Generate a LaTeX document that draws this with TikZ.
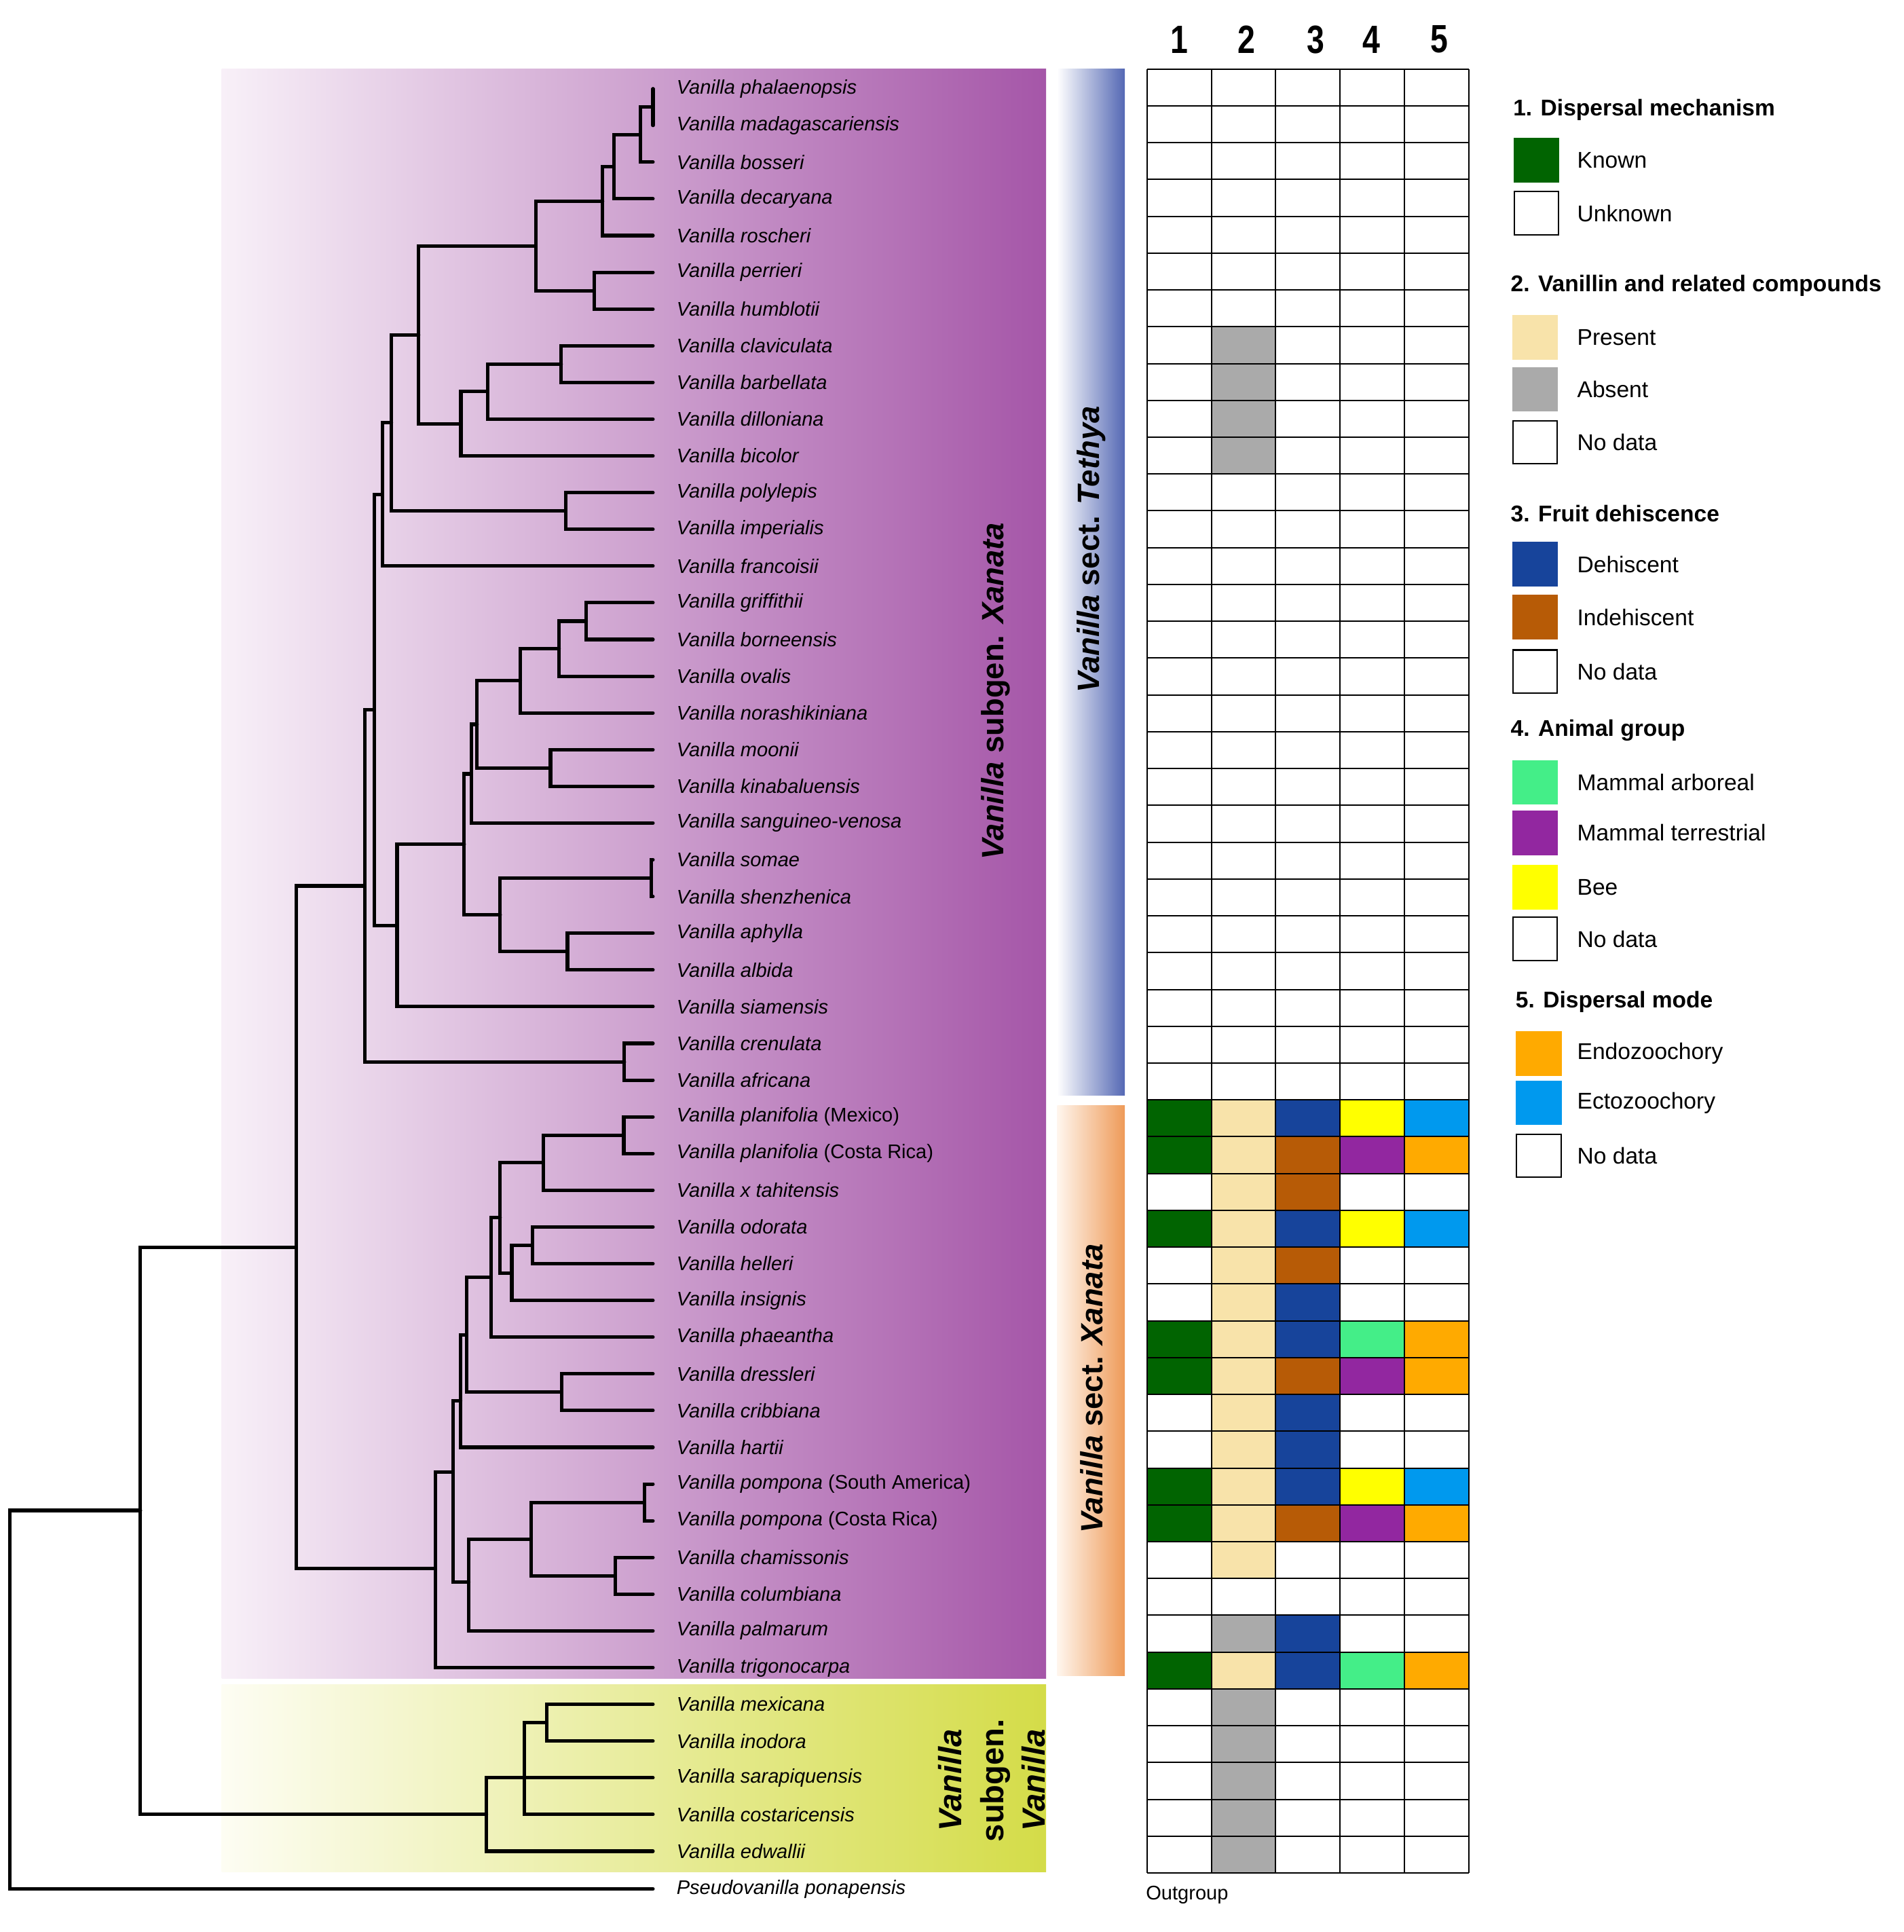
\documentclass[tikz,border=0pt]{standalone}
\usepackage{fontspec}
\setmainfont{Liberation Sans}
\usetikzlibrary{calc}

\definecolor{known}{HTML}{016401}
\definecolor{present}{HTML}{F8E3AA}
\definecolor{absent}{HTML}{AAAAAA}
\definecolor{dehisc}{HTML}{17449B}
\definecolor{indehisc}{HTML}{B75B06}
\definecolor{arboreal}{HTML}{44EE88}
\definecolor{terrestr}{HTML}{9227A0}
\definecolor{bee}{HTML}{FFFF00}
\definecolor{endo}{HTML}{FFAA00}
\definecolor{ecto}{HTML}{0099EE}
\definecolor{purpR}{HTML}{A556A8}
\definecolor{purpM}{HTML}{D3A6D0}
\definecolor{purpL}{HTML}{F8F0F8}
\definecolor{yelR}{HTML}{D4DC48}
\definecolor{yelM}{HTML}{E7EBA4}
\definecolor{yelL}{HTML}{FDFDF3}
\definecolor{tethya}{HTML}{5468B4}
\definecolor{xanata}{HTML}{EE9A58}
\definecolor{xanataL}{HTML}{FFF6EE}

\tikzset{
  taxon/.style={anchor=west,inner sep=0pt,font=\fontsize{16}{18}\selectfont\itshape},
  branch/.style={line width=2.8pt,line cap=round},
  gridline/.style={line width=1.1pt,black},
  colhead/.style={inner sep=0pt,font=\fontsize{32}{36}\selectfont\bfseries},
  cladetext/.style={rotate=90,inner sep=0pt,font=\fontsize{25}{30}\selectfont\bfseries},
  leghead/.style={anchor=west,inner sep=0pt,font=\fontsize{18.5}{22}\selectfont\bfseries},
  legtext/.style={anchor=west,inner sep=0pt,font=\fontsize{18.5}{22}\selectfont},
  legbox/.style={minimum width=36pt,minimum height=35pt,inner sep=0pt,line width=1.2pt}
}

\newcommand{\trait}[3]{\fill[#3] ({931+52.2*(#1-1)},{56+29.88*(#2)}) rectangle ++(52.2,29.88);}

\begin{document}
\begin{tikzpicture}[x=1pt, y=-1pt]
  \useasboundingbox (0,0) rectangle (1545,1568);

  % clade backgrounds
  \shade[left color=purpL, middle color=purpM, right color=purpR] (180,56) rectangle (849,1362);
  \shade[left color=yelL, middle color=yelM, right color=yelR] (180,1367) rectangle (849,1519);
  \shade[left color=white, right color=tethya] (858,56) rectangle (913,889);
  \shade[left color=xanataL, right color=xanata] (858,897) rectangle (913,1360);

  \node[cladetext] (SX) at (808,561) {\textit{Vanilla} subgen. \textit{Xanata}};
  \node[cladetext] (ST) at (886,446) {\textit{Vanilla} sect. \textit{Tethya}};
  \node[cladetext] (SK) at (886,1127) {\textit{Vanilla} sect. \textit{Xanata}};
  \node[cladetext, font=\fontsize{26}{34}\selectfont\bfseries, align=center] (SV) at (805,1445) {\textit{Vanilla}\\subgen.\\\textit{Vanilla}};

  % taxa
  \foreach \n [count=\i from 0] in {phalaenopsis, madagascariensis, bosseri, decaryana, roscheri,
      perrieri, humblotii, claviculata, barbellata, dilloniana, bicolor, polylepis, imperialis,
      francoisii, griffithii, borneensis, ovalis, norashikiniana, moonii, kinabaluensis,
      sanguineo-venosa, somae, shenzhenica, aphylla, albida, siamensis, crenulata, africana,
      planifolia \textup{(Mexico)}, planifolia \textup{(Costa Rica)}, x tahitensis, odorata,
      helleri, insignis, phaeantha, dressleri, cribbiana, hartii,
      pompona \textup{(South America)}, pompona \textup{(Costa Rica)}, chamissonis, columbiana,
      palmarum, trigonocarpa, mexicana, inodora, sarapiquensis, costaricensis, edwallii} {
    \node[taxon] (T_\i) at (549,{72+29.8*\i}) {Vanilla \n};
    \coordinate (t_\i) at (530,{72+29.8*\i});
  }
  \node[taxon] (T_49) at (549,1533) {Pseudovanilla ponapensis};
  \coordinate (t_49) at (530,1533);

  % internal nodes
  \foreach \nm/\x/\r in {A1/530/0.5, A2/519.7/1.25, A3/498.3/2.125, A4/489.1/3.0625,
      A5/482.1/5.5, A6/434.9/4.28, A7/455.5/7.5, A8/395.8/8.25, A9/374.1/9.125,
      A10/339.8/6.70, A11/459.1/11.5, A12/317.7/9.10, A13/310.4/11.05,
      B1/475.8/14.5, B2/453.8/15.25, B3/422.3/16.125, B4/446.8/18.5, B5/387.2/17.31,
      B6/382.6/18.66, B7/528.5/21.5, B8/460.6/23.5, B9/406/22.5, B10/376.8/20.58,
      B11/322.3/22.79, C1/303.8/16.92, C2/506.8/26.5, C3/296.1/21.71,
      D1/506.3/28.5, D2/440.8/29.25, D3/432/31.5, D4/415.4/32.25, D5/405.9/30.75,
      D6/398.5/32.375, D7/455.8/35.5, D8/378.7/33.94, D9/373.9/35.73, D10/523/38.5,
      D11/499.2/40.5, D12/431/39.5, D13/380.5/40.67, D14/367.7/37.67, D15/353.2/40.3,
      E1/240.4/31.55, F1/443.6/44.5, F2/425.7/46, F3/394.8/47, G1/114/38.72, R/8/44} {
    \coordinate (\nm) at (\x,{72+29.8*\r});
  }

  \draw[branch] (t_0) -| (A1) |- (t_1);
  \draw[branch] (A1) -| (A2) |- (t_2);
  \draw[branch] (A2) -| (A3) |- (t_3);
  \draw[branch] (A3) -| (A4) |- (t_4);
  \draw[branch] (t_5) -| (A5) |- (t_6);
  \draw[branch] (A4) -| (A6) |- (A5);
  \draw[branch] (t_7) -| (A7) |- (t_8);
  \draw[branch] (A7) -| (A8) |- (t_9);
  \draw[branch] (A8) -| (A9) |- (t_10);
  \draw[branch] (A6) -| (A10) |- (A9);
  \draw[branch] (t_11) -| (A11) |- (t_12);
  \draw[branch] (A10) -| (A12) |- (A11);
  \draw[branch] (A12) -| (A13) |- (t_13);
  \draw[branch] (t_14) -| (B1) |- (t_15);
  \draw[branch] (B1) -| (B2) |- (t_16);
  \draw[branch] (B2) -| (B3) |- (t_17);
  \draw[branch] (t_18) -| (B4) |- (t_19);
  \draw[branch] (B3) -| (B5) |- (B4);
  \draw[branch] (B5) -| (B6) |- (t_20);
  \draw[branch] (t_21) -| (B7) |- (t_22);
  \draw[branch] (t_23) -| (B8) |- (t_24);
  \draw[branch] (B7) -| (B9) |- (B8);
  \draw[branch] (B6) -| (B10) |- (B9);
  \draw[branch] (B10) -| (B11) |- (t_25);
  \draw[branch] (A13) -| (C1) |- (B11);
  \draw[branch] (t_26) -| (C2) |- (t_27);
  \draw[branch] (C1) -| (C3) |- (C2);
  \draw[branch] (t_28) -| (D1) |- (t_29);
  \draw[branch] (D1) -| (D2) |- (t_30);
  \draw[branch] (t_31) -| (D3) |- (t_32);
  \draw[branch] (D3) -| (D4) |- (t_33);
  \draw[branch] (D2) -| (D5) |- (D4);
  \draw[branch] (D5) -| (D6) |- (t_34);
  \draw[branch] (t_35) -| (D7) |- (t_36);
  \draw[branch] (D6) -| (D8) |- (D7);
  \draw[branch] (D8) -| (D9) |- (t_37);
  \draw[branch] (t_38) -| (D10) |- (t_39);
  \draw[branch] (t_40) -| (D11) |- (t_41);
  \draw[branch] (D10) -| (D12) |- (D11);
  \draw[branch] (D12) -| (D13) |- (t_42);
  \draw[branch] (D9) -| (D14) |- (D13);
  \draw[branch] (D14) -| (D15) |- (t_43);
  \draw[branch] (C3) -| (E1) |- (D15);
  \draw[branch] (t_44) -| (F1) |- (t_45);
  \draw[branch] (F1) -| (F2) |- (t_47);
  \draw[branch] (t_46) -| (F2);
  \draw[branch] (F2) -| (F3) |- (t_48);
  \draw[branch] (E1) -| (G1) |- (F3);
  \draw[branch] (G1) -| (R) |- (t_49);

  % trait table
  \foreach \r in {7,8,9,10,42,44,45,46,47,48} {\trait{2}{\r}{absent}}
  \foreach \r in {28,...,40,43} {\trait{2}{\r}{present}}
  \foreach \r in {28,29,31,34,35,38,39,43} {\trait{1}{\r}{known}}
  \foreach \r in {28,31,33,34,36,37,38,42,43} {\trait{3}{\r}{dehisc}}
  \foreach \r in {29,30,32,35,39} {\trait{3}{\r}{indehisc}}
  \foreach \r in {28,31,38} {\trait{4}{\r}{bee}\trait{5}{\r}{ecto}}
  \foreach \r in {29,35,39} {\trait{4}{\r}{terrestr}}
  \foreach \r in {34,43} {\trait{4}{\r}{arboreal}}
  \foreach \r in {29,34,35,39,43} {\trait{5}{\r}{endo}}

  \foreach \r in {0,...,49} {\draw[gridline] (931,{56+29.88*\r}) -- (1192,{56+29.88*\r});}
  \foreach \c in {0,...,5} {\draw[gridline] ({931+52.2*\c},56) -- ({931+52.2*\c},1520.1);}

  \node[colhead] (H_1) at (957,32) {\scalebox{0.8}[1]{1}};
  \node[colhead] (H_2) at (1012,32) {\scalebox{0.8}[1]{2}};
  \node[colhead] (H_3) at (1068,32) {\scalebox{0.8}[1]{3}};
  \node[colhead] (H_4) at (1113,32) {\scalebox{0.8}[1]{4}};
  \node[colhead] (H_5) at (1168,32) {\scalebox{0.8}[1]{5}};
  \node[legtext, font=\fontsize{16}{18}\selectfont] (OG) at (930,1538) {Outgroup};

  % legend
  \node[leghead] (L_1) at (1228,89) {1. Dispersal mechanism};
  \node[leghead] (L_2) at (1226,232) {2. Vanillin and related compounds};
  \node[leghead] (L_3) at (1226,417) {3. Fruit dehiscence};
  \node[leghead] (L_4) at (1226,593) {4. Animal group};
  \node[leghead] (L_5) at (1230,813) {5. Dispersal mode};

  \foreach \x/\y/\col/\edge/\txt in {1247/130/known/known/Known, 1247/173/white/black/Unknown,
      1246/274/present/present/Present, 1246/316/absent/absent/Absent, 1246/359/white/black/No data,
      1246/458/dehisc/dehisc/Dehiscent, 1246/501/indehisc/indehisc/Indehiscent, 1246/545/white/black/No data,
      1246/635/arboreal/arboreal/Mammal arboreal, 1246/676/terrestr/terrestr/Mammal terrestrial,
      1246/720/bee/bee/Bee, 1246/762/white/black/No data,
      1249/855/endo/endo/Endozoochory, 1249/895/ecto/ecto/Ectozoochory, 1249/938/white/black/No data} {
    \node[legbox, fill=\col, draw=\edge] (B\y) at (\x,\y) {};
    \node[legtext] (X\y) at (1280,\y) {\txt};
  }
\end{tikzpicture}
\end{document}
